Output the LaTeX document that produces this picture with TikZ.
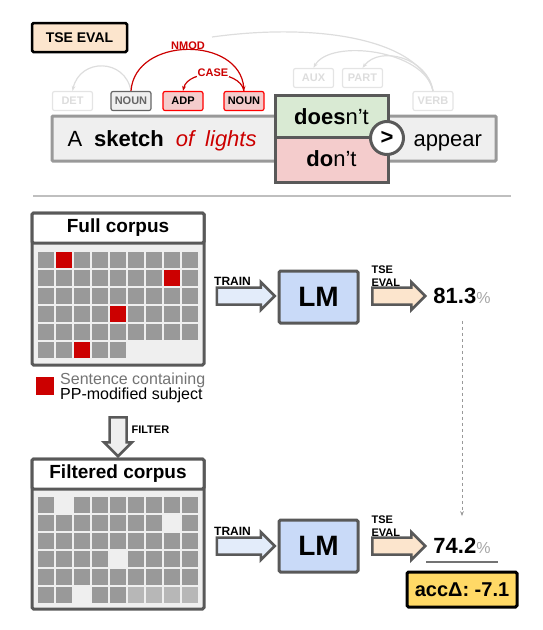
\documentclass[tikz,border=0pt]{standalone}
\usepackage{fontspec}
\setmainfont{Liberation Sans}
\usetikzlibrary{shapes.arrows,arrows.meta}
\definecolor{edge}{HTML}{595959}
\definecolor{peach}{HTML}{FCE5CD}
\definecolor{lmblue}{HTML}{C9DAF8}
\definecolor{trainblue}{HTML}{E3ECFA}
\definecolor{okgreen}{HTML}{D9EAD3}
\definecolor{badred}{HTML}{F4CCCC}
\definecolor{depred}{HTML}{CC0000}
\definecolor{cellgray}{HTML}{999999}
\definecolor{celllight}{HTML}{B7B7B7}
\definecolor{paper}{HTML}{EFEFEF}
\definecolor{faded}{HTML}{DDDDDD}
\definecolor{accyellow}{HTML}{FFD966}
\begin{document}
\begin{tikzpicture}[x=1pt,y=-1pt]
\tikzstyle{tag}=[draw, rounded corners=2pt, line width=1.2pt, minimum width=40pt, minimum height=19pt, inner sep=0pt, font=\fontsize{11}{11}\selectfont\bfseries]
\tikzstyle{fadedtag}=[tag, draw=faded!80, text=faded, fill=white]
\tikzstyle{redtag}=[tag, draw=red, fill=badred]
\tikzstyle{corpus}=[draw=edge, line width=3pt, rounded corners=1.5pt, minimum width=172pt, inner sep=0pt, font=\fontsize{19}{19}\selectfont\bfseries]
\tikzstyle{blockarrow}=[single arrow, draw=edge, line width=2.5pt, single arrow head extend=5.5pt, inner sep=7.25pt]
\tikzstyle{lm}=[draw=edge, fill=lmblue, line width=3pt, rounded corners=1.5pt, minimum width=79pt, minimum height=52pt, font=\fontsize{28}{28}\selectfont\bfseries]
\tikzstyle{small}=[font=\fontsize{11}{12.5}\selectfont\bfseries]
\tikzstyle{trainlabel}=[font=\fontsize{12}{12}\selectfont\bfseries, anchor=base west, inner sep=1pt]
\tikzstyle{score}=[font=\fontsize{22}{22}\selectfont\bfseries]
\tikzstyle{word}=[font=\fontsize{22}{22}\selectfont]
\tikzstyle{arc}=[faded, line width=1.2pt, -{Stealth[length=5pt]}]
\tikzstyle{dep}=[depred, line width=1.2pt, -{Stealth[length=5pt]}]
\useasboundingbox (0,0) rectangle (542,630);

% example sentence
\node[draw=black, fill=peach, line width=2.5pt, rounded corners=1.5pt, minimum width=95pt, minimum height=29pt, font=\fontsize{14}{14}\selectfont\bfseries] (tse) at (79.5,37.5) {TSE EVAL};
\node[draw=cellgray, fill=paper, line width=3pt, rounded corners=1pt, minimum width=444pt, minimum height=45pt] (sent) at (274,138.5) {};
\node[word, anchor=base west] (subj) at (64,146) {A\hspace{12pt}\textbf{sketch}\hspace{12pt}\textcolor{depred}{\itshape of\hspace{11pt}lights}};
\node[word, anchor=base west] (appear) at (410,146) {appear};
\node[draw=edge, fill=okgreen, line width=3pt, minimum width=113pt, minimum height=42pt] (does) at (331.5,116) {};
\node[draw=edge, fill=badred, line width=3pt, minimum width=113pt, minimum height=45pt] (dont) at (331.5,159.5) {};
\node[word, anchor=base] (doestext) at (331.5,124) {\textbf{does}n’t};
\node[word, anchor=base] (donttext) at (331.5,166.5) {\textbf{do}n’t};
\node[circle, draw=edge, fill=white, line width=3pt, minimum size=33pt, inner sep=0pt, font=\fontsize{22}{22}\selectfont\bfseries] (cmp) at (387,138) {>};

% dependency tags
\node[fadedtag] (det) at (72.5,101) {DET};
\node[tag, draw=black!60, fill=paper, text=black!60] (noun1) at (131,101) {NOUN};
\node[redtag] (adp) at (183,101) {ADP};
\node[redtag] (noun2) at (244,101) {NOUN};
\node[fadedtag] (aux) at (313.5,78) {AUX};
\node[fadedtag] (part) at (362.5,78) {PART};
\node[fadedtag] (verb) at (433,101) {VERB};
\coordinate (nsubjend) at (212,37);
\draw[faded, line width=1.2pt] (verb.north) .. controls (420,40) and (320,22) .. (nsubjend);
\draw[arc] (verb.north) .. controls (425,50) and (330,38) .. (aux.north);
\draw[arc] (verb.north) .. controls (428,58) and (380,45) .. (part.north);
\draw[arc] (noun1.north) .. controls (125,58) and (80,58) .. (det.north);
\draw[dep] (noun1.north) .. controls (135,36) and (240,36) .. (noun2.north);
\draw[dep] (noun2.north) .. controls (240,69) and (188,69) .. (adp.north);
\node[small, text=depred] (nmod) at (188,45.5) {NMOD};
\node[small, text=depred, fill=white, inner sep=1pt] (case) at (213,72.5) {CASE};

\draw[line width=1.5pt, black!25] (33,196) -- (511,196);

% full corpus
\node[corpus, fill=paper, minimum height=152pt] (full) at (118,289) {};
\node[corpus, fill=white, minimum height=30pt, anchor=north] (fullhead) at (full.north) {Full corpus};
\foreach \r in {0,...,4}
  \foreach \c in {0,...,8}
    \fill[cellgray] (38+18*\c,252+18*\r) rectangle ++(16,16);
\foreach \c in {0,...,4}
  \fill[cellgray] (38+18*\c,342) rectangle ++(16,16);
\foreach \c/\r in {1/0,7/1,4/3,2/5}
  \fill[depred] (38+18*\c,252+18*\r) rectangle ++(16,16);
\node[fill=depred, minimum size=18pt, inner sep=0pt] (key) at (45,386) {};
\node[font=\fontsize{16}{16}\selectfont, text=black!55, anchor=base west, inner sep=1pt] (keyline1) at (59,384) {Sentence containing};
\node[font=\fontsize{16}{16}\selectfont, anchor=base west, inner sep=1pt] (keyline2) at (59,399) {PP-modified subject};

% filter step
\node[blockarrow, fill=paper, shape border rotate=270, minimum height=39pt] (filter) at (118,432.5) {};
\node[small, anchor=west] (filtertext) at (128,430) {FILTER};

% filtered corpus
\node[corpus, fill=paper, minimum height=150pt] (filtered) at (118,534) {};
\node[corpus, fill=white, minimum height=30pt, anchor=north] (filteredhead) at (filtered.north) {Filtered corpus};
\foreach \r/\cols in {0/{0,2,3,4,5,6,7,8},1/{0,1,2,3,4,5,6,8},2/{0,1,2,3,4,5,6,7,8},3/{0,1,2,3,5,6,7,8},4/{0,1,2,3,4,5,6,7,8},5/{0,1,3,4}}
  \foreach \c in \cols
    \fill[cellgray] (38+18*\c,497+18*\r) rectangle ++(16,16);
\foreach \c in {5,...,8}
  \fill[celllight] (38+18*\c,587) rectangle ++(16,16);

% training and evaluation
\node[blockarrow, fill=trainblue, minimum height=58pt] (trainA) at (241.5,296) {};
\node[trainlabel] (trainAtext) at (213,285) {TRAIN};
\node[lm] (lmA) at (318.5,297) {LM};
\node[blockarrow, fill=peach, minimum height=53pt] (evalA) at (394.5,296) {};
\node[small, align=left, anchor=west] (evalAtext) at (368,276) {TSE\\EVAL};
\node[score, anchor=base] (accA) at (462,303) {81.3\textcolor{black!35}{\fontsize{16}{16}\selectfont\mdseries\%}};

\node[blockarrow, fill=trainblue, minimum height=58pt] (trainB) at (241.5,546) {};
\node[trainlabel] (trainBtext) at (213,535) {TRAIN};
\node[lm] (lmB) at (318.5,546) {LM};
\node[blockarrow, fill=peach, minimum height=53pt] (evalB) at (394.5,546) {};
\node[small, align=left, anchor=west] (evalBtext) at (368,526) {TSE\\EVAL};
\node[score, anchor=base] (accB) at (462,553) {74.2\textcolor{black!35}{\fontsize{16}{16}\selectfont\mdseries\%}};
\draw[black!40, dashed, line width=1pt, -{Stealth[length=5pt]}, shorten <=14pt, shorten >=18pt] (accA) -- (accB);
\draw[black!55, line width=2pt] (426,562) -- (498,562);
\node[draw=black, fill=accyellow, line width=3pt, rounded corners=1.5pt, minimum width=110pt, minimum height=35pt, font=\fontsize{20}{20}\selectfont\bfseries] (delta) at (462,589.5) {accΔ: -7.1};
\end{tikzpicture}
\end{document}
